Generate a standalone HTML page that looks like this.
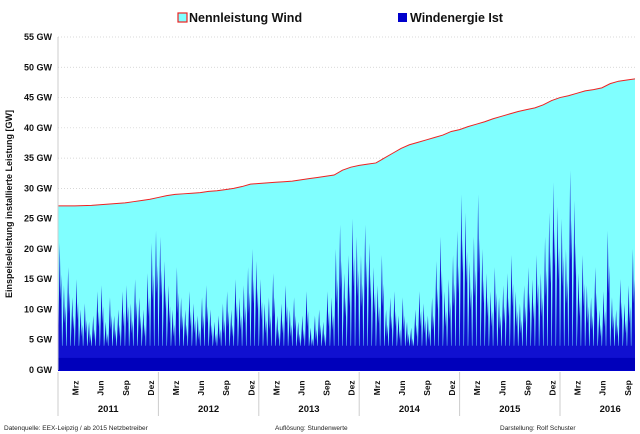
<!DOCTYPE html>
<html><head><meta charset="utf-8"><style>
body{margin:0;background:#fff;font-family:"Liberation Sans",sans-serif}
svg{display:block}
</style></head><body>
<svg id="c" width="640" height="434" xmlns="http://www.w3.org/2000/svg">
<g>
<rect x="178" y="13" width="9" height="9" fill="#80ffff" stroke="#ee2222" stroke-width="1.2"/>
<text x="189" y="22" font-size="12.5" font-weight="bold" fill="#111">Nennleistung Wind</text>
<rect x="398" y="13" width="9" height="9" fill="#0000cc"/>
<text x="410" y="22" font-size="12.5" font-weight="bold" fill="#111">Windenergie  Ist</text>
</g>
<text transform="translate(12,204) rotate(-90)" text-anchor="middle" font-size="9" font-weight="bold" fill="#111">Einspeiseleistung installierte Leistung [GW]</text>
<g id="grid"></g>
<g id="plot"></g>
<g id="axes"></g>
<text x="4" y="430" font-size="6.5" fill="#222">Datenquelle:  EEX-Leipzig   /  ab 2015 Netzbetreiber</text>
<text x="275" y="430" font-size="6.5" fill="#222">Auflösung: Stundenwerte</text>
<text x="500" y="430" font-size="6.5" fill="#222">Darstellung: Rolf Schuster</text>
</svg>
<script>
const years=["2011","2012","2013","2014","2015","2016"];
const monthLabels=["Mrz","Jun","Sep","Dez"];
const yTicks=[0,5,10,15,20,25,30,35,40,45,50,55];
const capacity=[27.1,27.1,27.1,27.15,27.2,27.3,27.4,27.5,27.6,27.8,28.0,28.2,
28.5,28.8,29.0,29.1,29.2,29.3,29.5,29.6,29.8,30.0,30.3,30.7,
30.8,30.9,31.0,31.1,31.2,31.4,31.6,31.8,32.0,32.2,33.0,33.5,
33.8,34.0,34.2,35.0,35.8,36.6,37.2,37.6,38.0,38.4,38.8,39.4,
39.7,40.2,40.6,41.0,41.5,41.9,42.3,42.7,43.0,43.3,43.8,44.5,
45.0,45.3,45.7,46.1,46.3,46.6,47.3,47.7,47.9,48.1];
const windPeaks=[21,14,17,12,15,10,11,8,9,13,14,8,12,9,10,13,14,11,15,12,10,16,21,23,
22,18,14,10,17,12,10,13,11,9,12,14,10,8,9,11,13,10,15,12,14,17,20,18,
15,11,12,16,9,11,14,10,12,8,9,13,7,9,10,8,13,12,20,24,16,19,25,22,
19,24,21,17,14,19,10,12,13,9,12,8,7,10,13,11,9,12,18,22,13,15,19,23,
29,26,18,22,29,20,16,13,17,12,14,16,19,13,11,14,17,15,19,16,22,26,31,27,
25,20,33,28,16,19,14,12,17,10,13,23,12,10,15,11,14,20];
const NS="http://www.w3.org/2000/svg";
const X0=58,X1=635,Y0=370,Y1=37,YEARW=100.4;
const xm=m=>X0+m*YEARW/12;
const yv=v=>Y0-(v/55)*(Y0-Y1);
function mk(t,a,p){const e=document.createElementNS(NS,t);for(const k in a)e.setAttribute(k,a[k]);p.appendChild(e);return e;}
const grid=document.getElementById('grid'),plot=document.getElementById('plot'),axes=document.getElementById('axes');
yTicks.forEach(v=>{
 if(v>0){const l=mk('line',{x1:X0,x2:X1,y1:yv(v),y2:yv(v),stroke:'#ccc','stroke-dasharray':'1,2','stroke-width':0.7},grid);
 
 }
 const t=mk('text',{x:X0-6,y:yv(v)+3,'text-anchor':'end','font-size':9,'font-weight':'bold',fill:'#111'},axes);
 t.textContent=v+' GW';
 
 
});
const cl=mk('clipPath',{id:'pc'},plot);mk('rect',{x:X0,y:Y1,width:X1-X0,height:Y0-Y1},cl);
const g=mk('g',{'clip-path':'url(#pc)'},plot);
let pts=capacity.map((v,i)=>xm(i)+','+yv(v));
const area=mk('polygon',{points:X0+','+Y0+' '+pts.join(' ')+' '+xm(capacity.length-1)+','+Y0,fill:'#80ffff'},g);


let d='M'+X0+','+Y0;
windPeaks.forEach((v,i)=>{
 const m=(i+0.5)/2;const xc=xm(m);
 d+=' L'+(xc-1.9)+','+yv(4)+' L'+(xc-0.3)+','+yv(v)+' L'+(xc+0.5)+','+yv(v*0.55)+' L'+(xc+1.2)+','+yv(v*0.75)+' L'+(xc+1.9)+','+yv(4);
});
d+=' L'+X1+','+yv(4)+' L'+X1+','+Y0+' Z';
const w=mk('path',{d:d,fill:'#1010d0'},g);


const base=mk('rect',{x:X0,y:yv(2),width:X1-X0,height:Y0-yv(2),fill:'#0000bb'},g);


const line=mk('polyline',{points:pts.join(' '),fill:'none',stroke:'#ee2222','stroke-width':1},g);


mk('line',{x1:X0,x2:X0,y1:Y1,y2:Y0,stroke:'#ccc','stroke-width':1},axes);
mk('line',{x1:X0,x2:X1,y1:Y0+0.5,y2:Y0+0.5,stroke:'#0000cc','stroke-width':1},axes);
years.forEach((yr,i)=>{
 const xs=xm(i*12);
 const sep=mk('line',{x1:xs,x2:xs,y1:372,y2:416,stroke:'#ccc','stroke-width':1},axes);
 
 
 const t=mk('text',{x:xm(i*12+6),y:412,'text-anchor':'middle','font-size':9.5,'font-weight':'bold',fill:'#111'},axes);
 t.textContent=yr;
 
 
 monthLabels.forEach((ml,j)=>{
  const m=i*12+2+j*3;if(xm(m)>X1)return;
  const tx=mk('text',{transform:'translate('+(xm(m+0.1)+3)+',388) rotate(-90)','text-anchor':'middle','font-size':8.5,'font-weight':'bold',fill:'#111'},axes);
  tx.textContent=ml;
  
  
 });
});
</script>
</body></html>
